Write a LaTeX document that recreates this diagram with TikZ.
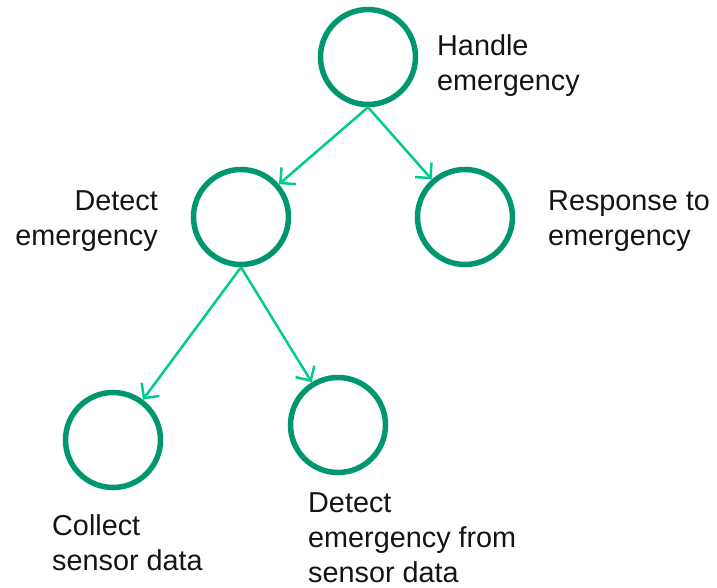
\documentclass[tikz,border=0pt]{standalone}
\usepackage{fontspec}
\setmainfont{Liberation Sans}
\usetikzlibrary{arrows.meta}
\definecolor{ringgreen}{RGB}{0,150,110}
\definecolor{linkgreen}{RGB}{0,204,143}
\definecolor{labelgray}{RGB}{20,20,20}
\tikzset{
  goal/.style={circle, draw=ringgreen, line width=5.5pt, minimum size=95pt, inner sep=0pt},
  link/.style={draw=linkgreen, line width=2.5pt, -{Straight Barb[length=11pt,width=22pt,line width=2.5pt]}},
  lbl/.style={inner sep=0pt, text=labelgray, font=\fontsize{28.8pt}{35pt}\selectfont},
}
\begin{document}
\begin{tikzpicture}[x=1pt,y=-1pt]
\useasboundingbox (0,0) rectangle (717,587);
% goal circles
\node[goal] (handle)   at (368,57)  {};
\node[goal] (detect)   at (241,217) {};
\node[goal] (respond)  at (465,217) {};
\node[goal] (collect)  at (113,440) {};
\node[goal] (fromdata) at (338,425) {};
% labels
\node[lbl, anchor=west, align=left]  (tHandle)   at (437,66)  {Handle\\emergency};
\node[lbl, anchor=east, align=right] (tDetect)   at (158,221) {Detect\\emergency};
\node[lbl, anchor=west, align=left]  (tRespond)  at (548,221) {Response to\\emergency};
\node[lbl, anchor=west, align=left]  (tCollect)  at (52,543)  {Collect\\sensor data};
\node[lbl, anchor=west, align=left]  (tFromData) at (308,538) {Detect\\emergency from\\sensor data};
% decomposition links
\draw[link] (handle.south) -- (detect);
\draw[link] (handle.south) -- (respond);
\draw[link] (detect.south) -- (collect);
\draw[link] (detect.south) -- (fromdata);
\end{tikzpicture}
\end{document}
